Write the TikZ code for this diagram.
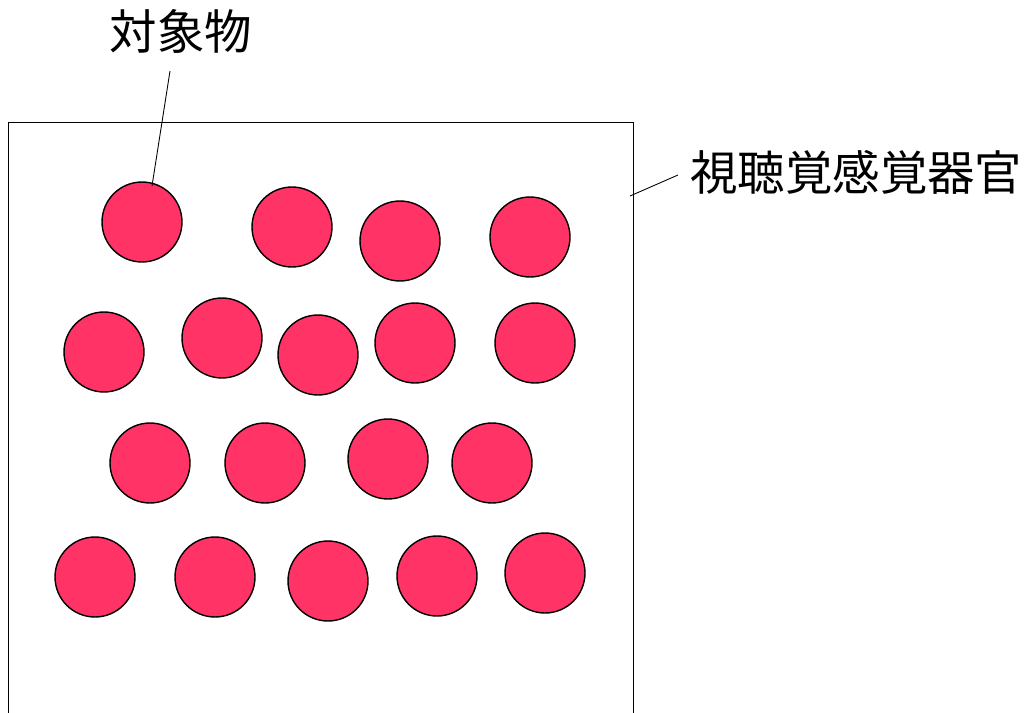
\documentclass[tikz,border=0pt]{standalone}
\usepackage{fontspec}
\newfontfamily\cjk{Noto Sans CJK JP}
\definecolor{objred}{RGB}{255,51,102}
\tikzset{
  obj/.style={circle,draw=black,line width=0.8pt,fill=objred,minimum size=1.6cm,inner sep=0pt},
  lbl/.style={font=\cjk\fontsize{27}{31}\selectfont,inner sep=0pt}
}
\begin{document}
\begin{tikzpicture}[x=0.02cm,y=-0.02cm]
\useasboundingbox (0,0) rectangle (1024,713);
\draw[line width=0.5pt] (8,713) -- (8,122) -- (633,122) -- (633,713);
\foreach \x/\y [count=\i] in {142/222, 292/227, 400/241, 530/237,
  104/352, 222/338, 318/355, 415/343, 535/343,
  150/463, 265/463, 388/459, 492/463,
  95/577, 215/577, 328/581, 437/576, 545/573}
  \node[obj] (o\i) at (\x,\y) {};
\node[lbl] (obj) at (181,31) {対象物};
\node[lbl,anchor=west] (sense) at (690,172) {視聴覚感覚器官};
\coordinate (objtip) at (152,186);
\coordinate (boxtip) at (630,196);
\draw[line width=0.5pt] (170,71) -- (objtip);
\draw[line width=0.5pt] (678,175) -- (boxtip);
\end{tikzpicture}
\end{document}
